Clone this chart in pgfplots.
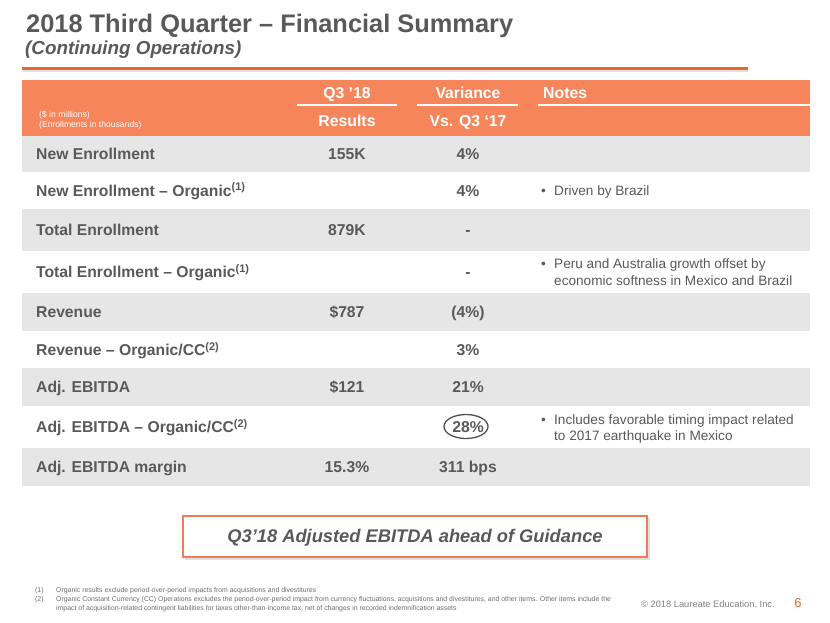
\documentclass[border=0pt]{standalone}
\usepackage{pgfplots}
\pgfplotsset{compat=1.18}
\usepackage{fontspec}
\setmainfont{Liberation Sans}
\definecolor{txt}{HTML}{595959}
\definecolor{hdr}{HTML}{F6855B}
\definecolor{rowg}{HTML}{E6E6E6}
\definecolor{orl}{HTML}{E8652D}
\definecolor{boxo}{HTML}{F27B52}
\definecolor{foot}{HTML}{6E6E6E}
\tikzset{
  lab/.style={anchor=base west,inner sep=0pt,text=txt,font=\fontsize{15.7}{18}\selectfont\bfseries},
  val/.style={anchor=base,inner sep=0pt,text=txt,font=\fontsize{15.7}{18}\selectfont\bfseries},
  note/.style={anchor=base west,inner sep=0pt,text=txt,font=\fontsize{13.6}{16.5}\selectfont},
  hd/.style={anchor=base,inner sep=0pt,text=white,font=\fontsize{15.8}{18}\selectfont\bfseries},
  fn/.style={anchor=base west,inner sep=0pt,text=foot,font=\fontsize{6.9}{8}\selectfont}}
\begin{document}
\begin{tikzpicture}
\begin{axis}[width=830pt,height=623pt,scale only axis,xmin=0,xmax=830,ymin=0,ymax=623,
  y dir=reverse,hide axis,clip=false]
\fill[white] (axis cs:0,0) rectangle (axis cs:830,623);
% title
\node[anchor=base west,inner sep=0pt,text=txt,font=\fontsize{25.4}{30}\selectfont\bfseries] at (axis cs:26,32.5) {2018 Third Quarter – Financial Summary};
\node[anchor=base west,inner sep=0pt,text=txt,font=\fontsize{18.8}{22}\selectfont\bfseries\itshape] at (axis cs:25,55) {(Continuing Operations)};
\fill[black!12] (axis cs:22,70) rectangle (axis cs:748,72.5);
\fill[orl] (axis cs:22,67.5) rectangle (axis cs:748,70);
% header
\fill[hdr] (axis cs:22,80) rectangle (axis cs:810,136);
\draw[white,line width=1.5pt] (axis cs:297,105) -- (axis cs:397,105);
\draw[white,line width=1.5pt] (axis cs:417,105) -- (axis cs:518,105);
\draw[white,line width=1.5pt] (axis cs:538,105) -- (axis cs:810,105);
\node[hd] at (axis cs:347,98.5) {Q3 ’18};
\node[hd] at (axis cs:468,98.5) {Variance};
\node[hd,anchor=base west] at (axis cs:543,98.5) {Notes};
\node[hd] at (axis cs:347,126.5) {Results};
\node[hd] at (axis cs:468,126.5) {Vs. Q3 ‘17};
\node[anchor=base west,inner sep=0pt,text=white,font=\fontsize{8.6}{10}\selectfont] at (axis cs:39,117.5) {(\$ in millions)};
\node[anchor=base west,inner sep=0pt,text=white,font=\fontsize{8.6}{10}\selectfont] at (axis cs:39,128) {(Enrollments in thousands)};
% rows
\fill[rowg] (axis cs:22,136) rectangle (axis cs:810,172);
\fill[rowg] (axis cs:22,209) rectangle (axis cs:810,251);
\fill[rowg] (axis cs:22,293) rectangle (axis cs:810,331);
\fill[rowg] (axis cs:22,368) rectangle (axis cs:810,406);
\fill[rowg] (axis cs:22,448) rectangle (axis cs:810,486);
\node[lab] at (axis cs:36,159.6) {New Enrollment};
\node[lab] at (axis cs:36,196) {New Enrollment – Organic\textsuperscript{(1)}};
\node[lab] at (axis cs:36,235.6) {Total Enrollment};
\node[lab] at (axis cs:36,277.6) {Total Enrollment – Organic\textsuperscript{(1)}};
\node[lab] at (axis cs:36,317.6) {Revenue};
\node[lab] at (axis cs:36,355.6) {Revenue – Organic/CC\textsuperscript{(2)}};
\node[lab] at (axis cs:36,392.6) {Adj. EBITDA};
\node[lab] at (axis cs:36,432.6) {Adj. EBITDA – Organic/CC\textsuperscript{(2)}};
\node[lab] at (axis cs:36,472.6) {Adj. EBITDA margin};
% Q3 results
\node[val] at (axis cs:347,159.6) {155K};
\node[val] at (axis cs:347,235.6) {879K};
\node[val] at (axis cs:347,317.6) {\$787};
\node[val] at (axis cs:347,392.6) {\$121};
\node[val] at (axis cs:347,472.6) {15.3\%};
% variance
\node[val] at (axis cs:468,159.6) {4\%};
\node[val] at (axis cs:468,196) {4\%};
\node[val] at (axis cs:468,235.6) {-};
\node[val] at (axis cs:468,277.6) {-};
\node[val] at (axis cs:468,317.6) {(4\%)};
\node[val] at (axis cs:468,355.6) {3\%};
\node[val] at (axis cs:468,392.6) {21\%};
\node[val] at (axis cs:468,432.6) {28\%};
\node[val] at (axis cs:468,472.6) {311 bps};
\draw[txt!90!black,line width=1.3pt] (axis cs:466,426.5) ellipse [x radius=22pt,y radius=12pt];
% notes
\node[note] at (axis cs:541,195) {•};
\node[note] at (axis cs:554,195) {Driven by Brazil};
\node[note] at (axis cs:541,268) {•};
\node[note] at (axis cs:554,268) {Peru and Australia growth offset by};
\node[note] at (axis cs:554,285) {economic softness in Mexico and Brazil};
\node[note] at (axis cs:541,424) {•};
\node[note] at (axis cs:554,424) {Includes favorable timing impact related};
\node[note] at (axis cs:554,440.5) {to 2017 earthquake in Mexico};
% box
\fill[black!12] (axis cs:185,518) rectangle (axis cs:650,560);
\draw[boxo,line width=2pt,fill=white] (axis cs:183,516) rectangle (axis cs:647,557);
\node[anchor=base,inner sep=0pt,text=txt,font=\fontsize{18.3}{21}\selectfont\bfseries\itshape] at (axis cs:415,542.5) {Q3’18 Adjusted EBITDA ahead of Guidance};
% footnotes
\node[fn] at (axis cs:35,592) {(1)};
\node[fn] at (axis cs:56,592) {Organic results exclude period-over-period  impacts from acquisitions and divestitures};
\node[fn] at (axis cs:35,601) {(2)};
\node[fn] at (axis cs:56,601) {Organic Constant Currency (CC) Operations excludes the period-over-period  impact from currency fluctuations, acquisitions and divestitures, and other items. Other items include the};
\node[fn] at (axis cs:56,610) {impact of acquisition-related contingent liabilities for taxes other-than-income tax, net of changes in recorded indemnification assets};
\node[anchor=base west,inner sep=0pt,text=black!50,font=\fontsize{9.3}{11}\selectfont] at (axis cs:641,607) {© 2018 Laureate  Education,  Inc.};
\node[anchor=base,inner sep=0pt,text=orl,font=\fontsize{13}{15}\selectfont] at (axis cs:798,607.5) {6};
\end{axis}
\end{tikzpicture}
\end{document}
